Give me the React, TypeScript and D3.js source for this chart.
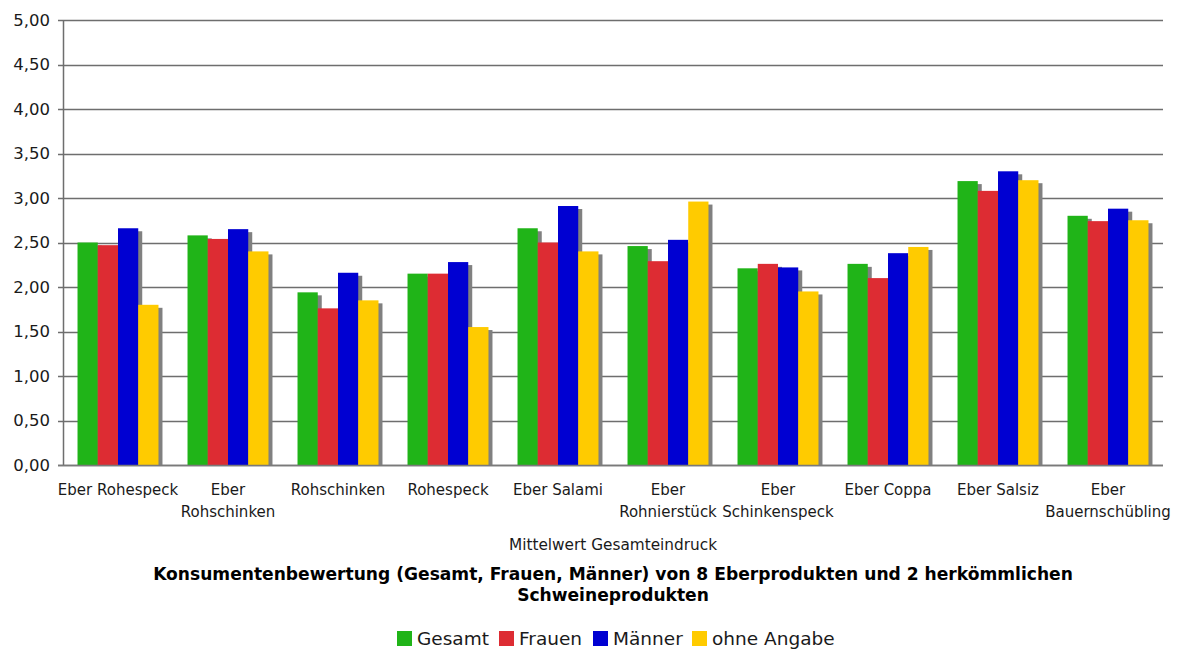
import React from "react";
import * as d3 from "d3";

const categories: string[][] = [
  ["Eber Rohespeck"],
  ["Eber", "Rohschinken"],
  ["Rohschinken"],
  ["Rohespeck"],
  ["Eber Salami"],
  ["Eber", "Rohnierstück"],
  ["Eber", "Schinkenspeck"],
  ["Eber Coppa"],
  ["Eber Salsiz"],
  ["Eber", "Bauernschübling"],
];
const seriesNames = ["Gesamt", "Frauen", "Männer", "ohne Angabe"];
const seriesColors = ["#20b418", "#dd2c33", "#0000d2", "#ffcb00"];
const gesamt = [2.5, 2.58, 1.94, 2.15, 2.66, 2.46, 2.21, 2.26, 3.19, 2.8];
const frauen = [2.47, 2.54, 1.76, 2.15, 2.5, 2.29, 2.26, 2.1, 3.08, 2.74];
const maenner = [2.66, 2.65, 2.16, 2.28, 2.91, 2.53, 2.22, 2.38, 3.3, 2.88];
const ohneAngabe = [1.8, 2.4, 1.85, 1.55, 2.4, 2.96, 1.95, 2.45, 3.2, 2.75];
const yTicks = [0, 0.5, 1, 1.5, 2, 2.5, 3, 3.5, 4, 4.5, 5];
const axisTitle = "Mittelwert Gesamteindruck";
const titleLines = [
  "Konsumentenbewertung (Gesamt, Frauen, Männer) von 8 Eberprodukten und 2 herkömmlichen",
  "Schweineprodukten",
];

const W = 1181;
const H = 651;
const left = 63;
const right = 1163;
const top = 20;
const bottom = 465;
const FONT = "Verdana, 'DejaVu Sans', sans-serif";

export default function App() {
  const series = [gesamt, frauen, maenner, ohneAngabe];
  const keys = categories.map((_, i) => String(i));
  const x0 = d3.scaleBand<string>().domain(keys).range([left, right]).paddingInner(0.264).paddingOuter(0.132);
  const x1 = d3.scaleBand<number>().domain([0, 1, 2, 3]).range([0, x0.bandwidth()]);
  const y = d3.scaleLinear().domain([0, 5]).range([bottom, top]);
  const fmt = (v: number) => d3.format(".2f")(v).replace(".", ",");

  const shadows: JSX.Element[] = [];
  const bars: JSX.Element[] = [];
  keys.forEach((k, ci) => {
    series.forEach((s, si) => {
      const bx = (x0(k) as number) + (x1(si) as number);
      const by = y(s[ci]);
      const bw = x1.bandwidth();
      shadows.push(
        <rect key={`s${ci}-${si}`} x={bx + 4} y={by + 3} width={bw} height={bottom - by - 3} fill="#808080" />
      );
      bars.push(
        <rect key={`b${ci}-${si}`} x={bx} y={by} width={bw} height={bottom - by} fill={seriesColors[si]} />
      );
    });
  });

  const legendItems = seriesNames.map((n, i) => ({ n, c: seriesColors[i] }));
  const lx = [397, 499, 593, 692];

  return (
    <svg width={W} height={H} style={{ position: "absolute", left: 0, top: 0, background: "#fff" }} fontFamily={FONT}>
      <rect x={0} y={0} width={W} height={H} fill="#fff" />
      {yTicks.map((t) => (
        <g key={t}>
          <line x1={58} x2={right} y1={Math.round(y(t)) + 0.5} y2={Math.round(y(t)) + 0.5} stroke="#6e6e6e" strokeWidth={1.3} />
          <text x={50} y={y(t) + 5.5} textAnchor="end" fontSize={16.5} fill="#1a1a1a">
            {fmt(t)}
          </text>
        </g>
      ))}
      {shadows}
      {bars}
      <line x1={63.5} x2={63.5} y1={top} y2={bottom} stroke="#6e6e6e" strokeWidth={1.5} />
      <line x1={58} x2={right} y1={bottom + 0.5} y2={bottom + 0.5} stroke="#7a7a7a" strokeWidth={1.5} />
      {categories.map((lines, ci) => {
        const cx = (x0(String(ci)) as number) + x0.bandwidth() / 2;
        return (
          <text key={ci} textAnchor="middle" fontSize={15} fill="#1a1a1a">
            {lines.map((l, li) => (
              <tspan key={li} x={cx} y={495 + li * 22}>
                {l}
              </tspan>
            ))}
          </text>
        );
      })}
      <text x={613} y={550} textAnchor="middle" fontSize={15.3} fill="#1a1a1a">
        {axisTitle}
      </text>
      {titleLines.map((l, i) => (
        <text key={i} x={613} y={580 + i * 21} textAnchor="middle" fontSize={17.1} fontWeight="bold" fill="#000">
          {l}
        </text>
      ))}
      {legendItems.map((it, i) => (
        <g key={it.n}>
          <rect x={lx[i]} y={631} width={15} height={15} fill={it.c} />
          <text x={lx[i] + 20} y={645} fontSize={18.5} fill="#1a1a1a">
            {it.n}
          </text>
        </g>
      ))}
    </svg>
  );
}
